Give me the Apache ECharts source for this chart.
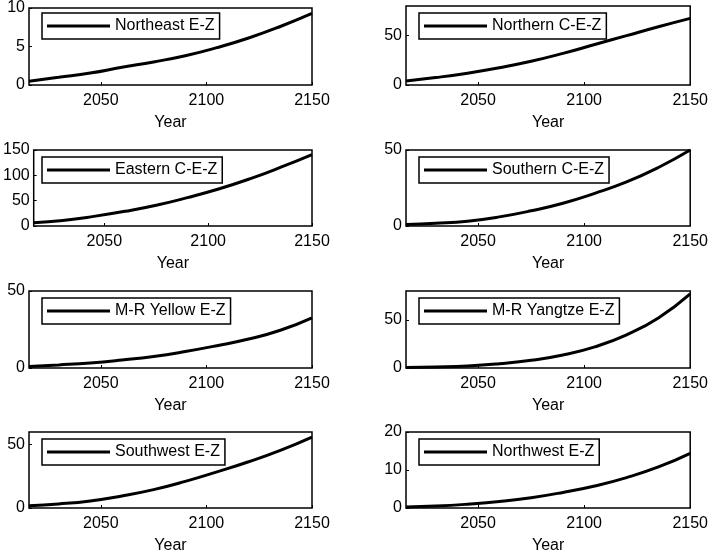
<!DOCTYPE html>
<html>
<head>
<meta charset="utf-8">
<script src="https://cdn.jsdelivr.net/npm/echarts@6/dist/echarts.min.js"></script>
<style>
  html, body { margin: 0; padding: 0; background: #fff; }
  #main { width: 711px; height: 555px; }
</style>
</head>
<body>
<div id="main"></div>
<script>
  // years sampled along each curve
  const years = [2016, 2030, 2045, 2060, 2075, 2090, 2105, 2120, 2135, 2150];

  const northeast = [0.5, 1.0, 1.55, 2.3, 3.0, 3.8, 4.85, 6.1, 7.6, 9.3];
  const northernCEZ = [4, 7.5, 12, 17.5, 24, 32, 41, 50, 59, 67.5];
  const easternCEZ = [6.6, 11, 19, 29, 41, 56, 73, 93, 116, 141];
  const southernCEZ = [1, 1.8, 3.2, 6, 10, 15, 21.5, 29, 38.5, 50];
  const mrYellow = [1, 2.0, 3.3, 5.2, 7.5, 10.7, 14.5, 18.8, 24.5, 32.6];
  const mrYangtze = [0.5, 1.0, 2.1, 4.5, 8, 13.5, 22, 34.5, 52, 77];
  const southwest = [1.8, 3.2, 5.6, 9.5, 14.5, 21, 28.5, 36.5, 45.5, 56];
  const northwest = [0.25, 0.5, 1.0, 1.7, 2.7, 4.1, 5.8, 8.0, 10.8, 14.4];

  const xTicks = [2050, 2100, 2150];

  const panels = [
    {name: 'Northeast E-Z', data: northeast, max: 10, ticks: [0, 5, 10]},
    {name: 'Northern C-E-Z', data: northernCEZ, max: 80, ticks: [0, 50]},
    {name: 'Eastern C-E-Z', data: easternCEZ, max: 150, ticks: [0, 50, 100, 150]},
    {name: 'Southern C-E-Z', data: southernCEZ, max: 50, ticks: [0, 50]},
    {name: 'M-R Yellow E-Z', data: mrYellow, max: 50, ticks: [0, 50]},
    {name: 'M-R Yangtze E-Z', data: mrYangtze, max: 80, ticks: [0, 50]},
    {name: 'Southwest E-Z', data: southwest, max: 60, ticks: [0, 50]},
    {name: 'Northwest E-Z', data: northwest, max: 20, ticks: [0, 10, 20]}
  ];

  const colLeft = [29, 406];
  const colWidth = [283, 286];
  const rowTop = [6, 150, 291, 432];
  const rowHeight = [79, 76, 77, 77];
  const font = 'Liberation Sans, Arial, sans-serif';

  let grid = [], xAxis = [], yAxis = [], series = [], legend = [];
  panels.forEach((p, i) => {
    let r = Math.floor(i / 2), c = i % 2;
    grid.push({
      left: colLeft[c], top: rowTop[r], width: colWidth[c], height: rowHeight[r],
      show: true, borderColor: '#000', borderWidth: 1.5, backgroundColor: '#fff'
    });
    xAxis.push({
      gridIndex: i, type: 'value', min: 2016, max: 2150,
      name: 'Year', nameLocation: 'middle', nameGap: 30,
      nameTextStyle: {color: '#000', fontSize: 16, fontFamily: font},
      axisLine: {show: false},
      axisTick: {show: true, inside: true, length: 3, customValues: xTicks, lineStyle: {color: '#000'}},
      axisLabel: {customValues: xTicks, margin: 8, color: '#000', fontSize: 16, fontFamily: font,
        formatter: v => String(v)},
      splitLine: {show: false}
    });
    yAxis.push({
      gridIndex: i, type: 'value', min: 0, max: p.max,
      axisLine: {show: false},
      axisTick: {show: true, inside: true, length: 3, customValues: p.ticks, lineStyle: {color: '#000'}},
      axisLabel: {customValues: p.ticks, margin: 4, color: '#000', fontSize: 16, fontFamily: font},
      splitLine: {show: false}
    });
    series.push({
      name: p.name, type: 'line', xAxisIndex: i, yAxisIndex: i,
      data: years.map((y, k) => [y, p.data[k]]),
      smooth: 0.5, symbol: 'none',
      lineStyle: {color: '#000', width: 3}, itemStyle: {color: '#000'}
    });
    legend.push({
      data: [p.name], left: colLeft[c] + 13, top: rowTop[r] + 7,
      orient: 'horizontal', selectedMode: false,
      icon: 'rect', itemWidth: 63, itemHeight: 3,
      padding: [5, 5, 5, 5],
      borderColor: '#000', borderWidth: 1.5, backgroundColor: '#fff',
      itemStyle: {color: '#000'},
      textStyle: {color: '#000', fontSize: 16, fontFamily: font}
    });
  });

  let chart = echarts.init(document.getElementById('main'));
  chart.setOption({
    animation: false,
    backgroundColor: '#fff',
    grid: grid,
    xAxis: xAxis,
    yAxis: yAxis,
    legend: legend,
    series: series
  });
</script>
</body>
</html>
